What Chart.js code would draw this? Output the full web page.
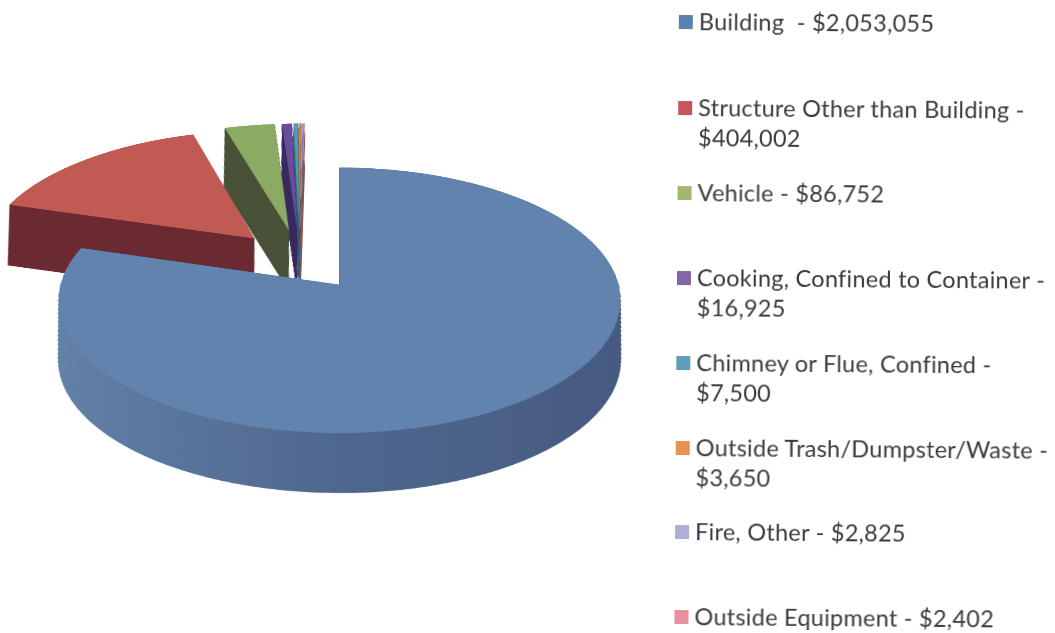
<!DOCTYPE html>
<html><head><meta charset="utf-8">
<style>
html,body{margin:0;padding:0;background:#fff;overflow:hidden;width:1055px;height:633px}
#wrap{position:absolute;left:0;top:0;width:1055px;height:633px;overflow:hidden}
#c{position:absolute;filter:blur(.5px)}
#legend{position:absolute;left:679px;top:0;width:376px;height:633px;transform-origin:0 0;transform:rotate(.42deg);font-family:Lato,sans-serif;font-size:23.5px;line-height:30px;color:#383b3e;filter:blur(.45px);letter-spacing:.25px}
.it{position:absolute;left:0;width:355px;padding-left:20px;white-space:pre-wrap}
.sw{position:absolute;left:0;top:9px;width:14px;height:14px}
</style></head><body>
<div id="wrap"><canvas id="c" width="1000" height="1000"></canvas><div id="legend"></div></div>
<script src="https://cdn.jsdelivr.net/npm/chart.js@4"></script>
<script>
const categories=["Building ","Structure Other than Building","Vehicle","Cooking, Confined to Container","Chimney or Flue, Confined","Outside Trash/Dumpster/Waste","Fire, Other","Outside Equipment"];
const values=[2053055,404002,86752,16925,7500,3650,2825,2402];
const topColors=["#6283ae","#c05a52","#8cab62","#6b4c9c","#4f9dbb","#e08a4a","#a9a6d6","#e58f9c"];
const sideColors=["#4a6288","#6b2b33","#4a5238","#3b2c62","#2f6478","#8a5028","#6a6890","#8a5660"];
const legendColors=["#5b80b4","#c9555a","#a3b86f","#8465a8","#5f9dbd","#e8924f","#aeaed8","#ea8fa0"];
const legendTops=[6,92,177,262,347,432,516,601];

const EXPLODE=68,RADIUS=279;
const DEPTH_SHIFT=123,DEPTH_SY=.10,DEPTH_SX=.05,DEPTH_STEPS=130;
const cv=document.getElementById('c');
const originX=500+EXPLODE*.595,originY=500+EXPLODE*.804;
cv.style.left=(339-originX)+'px';cv.style.top=(285-originY)+'px';
cv.style.transformOrigin=originX+'px '+originY+'px';
cv.style.transform='perspective(2098px) rotateX(62deg)';

const pie3d={id:'pie3d',beforeDatasetsDraw(chart){
  const ctx=chart.ctx,arcs=chart.getDatasetMeta(0).data;
  const order=arcs.map((a,i)=>i).reverse();
  order.forEach(i=>{
    const a=arcs[i],o=a.options,bg=o.backgroundColor;
    const mid=(a.startAngle+a.endAngle)/2,ex=Math.cos(mid)*EXPLODE,ey=Math.sin(mid)*EXPLODE;
    let fill=sideColors[i];
    if(i===0){const g=ctx.createLinearGradient(150,0,900,0);
      g.addColorStop(0,'#6a88ad');g.addColorStop(.45,'#4f688f');g.addColorStop(1,'#42537a');fill=g;}
    o.backgroundColor=fill;
    for(let s=DEPTH_STEPS;s>0;s--){
      const t=s/DEPTH_STEPS;
      ctx.save();
      ctx.translate(originX,originY);
      ctx.transform(1-DEPTH_SX*t,0,0,1-DEPTH_SY*t,0,DEPTH_SHIFT*t);
      ctx.translate(-originX+ex,-originY+ey);
      a.draw(ctx);
      ctx.restore();
    }
    o.backgroundColor=bg;
    ctx.save();ctx.translate(ex,ey);a.draw(ctx);ctx.restore();
  });
  return false;
}};
new Chart(cv,{type:'pie',data:{labels:categories,datasets:[{data:values,backgroundColor:topColors,borderWidth:0,radius:RADIUS}]},
 options:{responsive:false,animation:false,layout:{padding:0},plugins:{legend:{display:false},tooltip:{enabled:false}},events:[]},plugins:[pie3d]});

const lg=document.getElementById('legend');
categories.forEach((c,i)=>{
  const d=document.createElement('div');d.className='it';d.style.top=legendTops[i]+'px';
  d.textContent=c+' - $'+values[i].toLocaleString('en-US');
  const s=document.createElement('span');s.className='sw';s.style.background=legendColors[i];d.prepend(s);
  lg.appendChild(d);
});
</script></body></html>
